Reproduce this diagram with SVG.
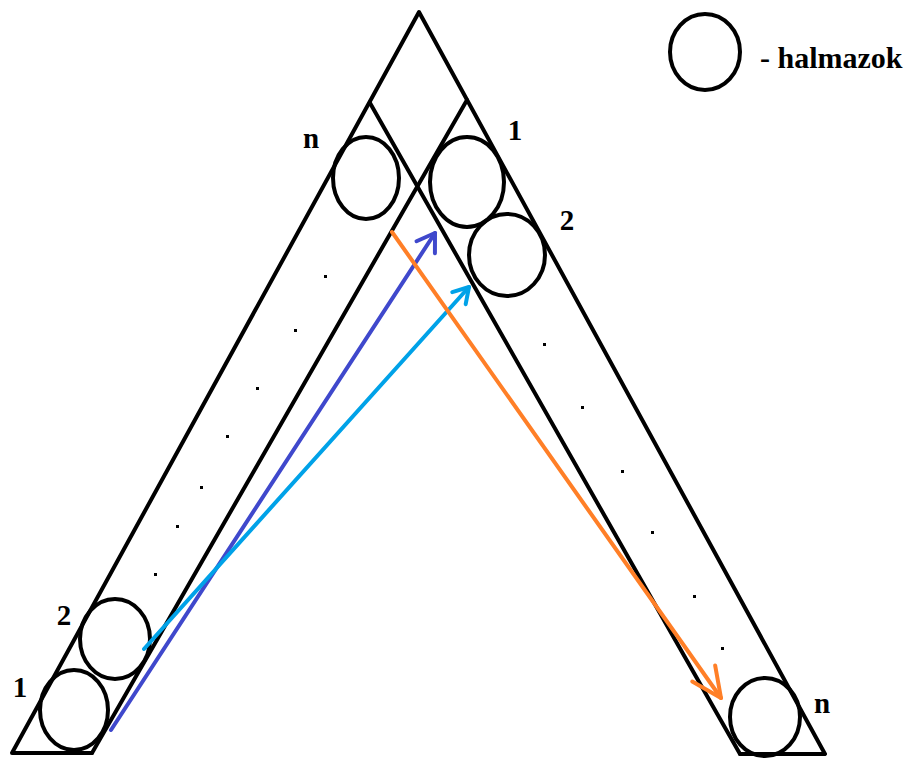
<svg xmlns="http://www.w3.org/2000/svg" width="909" height="758" viewBox="0 0 909 758">
<defs>
<style>
.ln{fill:none;stroke:#000;stroke-width:4;stroke-linecap:round;stroke-linejoin:round}
.set{fill:none;stroke:#000;stroke-width:4}
.lbl{font-family:"Liberation Serif","Times New Roman",serif;font-weight:bold;font-size:29px;fill:#000;text-anchor:middle}
.dot{fill:#000}
.arr{fill:none;stroke-width:4;stroke-linecap:round}
</style>
<marker id="hInd" markerUnits="userSpaceOnUse" markerWidth="40" markerHeight="40" refX="0" refY="0" viewBox="-25 -20 30 40" orient="auto" overflow="visible">
<path d="M-17,-11 L0,0 L-17,11" fill="none" stroke="#3F48CC" stroke-width="4" stroke-linecap="round" stroke-linejoin="round"/>
</marker>
<marker id="hSky" markerUnits="userSpaceOnUse" markerWidth="40" markerHeight="40" refX="0" refY="0" viewBox="-25 -20 30 40" orient="auto" overflow="visible">
<path d="M-15,-9 L0,0 L-15,9" fill="none" stroke="#00A2E8" stroke-width="4" stroke-linecap="round" stroke-linejoin="round"/>
</marker>
<marker id="hOra" markerUnits="userSpaceOnUse" markerWidth="70" markerHeight="70" refX="0" refY="0" viewBox="-35 -35 40 70" orient="auto" overflow="visible">
<path d="M-30,-14 L0,0 L-30,14" fill="none" stroke="#FF7F27" stroke-width="4" stroke-linecap="round" stroke-linejoin="round"/>
</marker>
</defs>
<rect width="909" height="758" fill="#fff"/>
<g id="frame">
<polyline class="ln" points="92,753 12,753 419,12 825,754 740,754"/>
<line class="ln" x1="467" y1="100" x2="92" y2="753"/>
<line class="ln" x1="370" y1="103" x2="740" y2="754"/>
</g>
<g id="dots-left">
<rect class="dot" x="324" y="275" width="3" height="3"/>
<rect class="dot" x="294" y="329" width="3" height="3"/>
<rect class="dot" x="256" y="387" width="3" height="3"/>
<rect class="dot" x="226" y="435" width="3" height="3"/>
<rect class="dot" x="200" y="486" width="3" height="3"/>
<rect class="dot" x="176" y="525" width="3" height="3"/>
<rect class="dot" x="154" y="573" width="3" height="3"/>
</g>
<g id="dots-right">
<rect class="dot" x="543" y="343" width="3" height="3"/>
<rect class="dot" x="581" y="406" width="3" height="3"/>
<rect class="dot" x="621" y="470" width="3" height="3"/>
<rect class="dot" x="651" y="531" width="3" height="3"/>
<rect class="dot" x="693" y="595" width="3" height="3"/>
<rect class="dot" x="721" y="647" width="3" height="3"/>
</g>
<g id="set-left-1">
<ellipse class="set" cx="74" cy="710" rx="34" ry="40"/>
<text class="lbl" x="20" y="697">1</text>
</g>
<g id="set-left-2">
<ellipse class="set" cx="115" cy="639" rx="35" ry="40"/>
<text class="lbl" x="64" y="625">2</text>
</g>
<g id="set-left-n">
<ellipse class="set" cx="366" cy="178" rx="33" ry="41"/>
<text class="lbl" x="311" y="148">n</text>
</g>
<g id="set-right-1">
<ellipse class="set" cx="467" cy="182" rx="37" ry="45"/>
<text class="lbl" x="515" y="140">1</text>
</g>
<g id="set-right-2">
<ellipse class="set" cx="507" cy="255" rx="38" ry="41"/>
<text class="lbl" x="567" y="230">2</text>
</g>
<g id="set-right-n">
<ellipse class="set" cx="765" cy="717" rx="35" ry="39"/>
<text class="lbl" x="822" y="713">n</text>
</g>
<g id="legend">
<ellipse class="set" cx="705" cy="52" rx="35" ry="38"/>
<text class="lbl" x="760" y="68" style="text-anchor:start;font-size:30px">- halmazok</text>
</g>
<g id="connectors">
<line class="arr" stroke="#3F48CC" x1="111" y1="730" x2="435" y2="233" marker-end="url(#hInd)"/>
<line class="arr" stroke="#00A2E8" x1="144" y1="649" x2="469" y2="287" marker-end="url(#hSky)"/>
<line class="arr" stroke="#FF7F27" x1="392" y1="232" x2="721" y2="698" marker-end="url(#hOra)"/>
</g>
</svg>
